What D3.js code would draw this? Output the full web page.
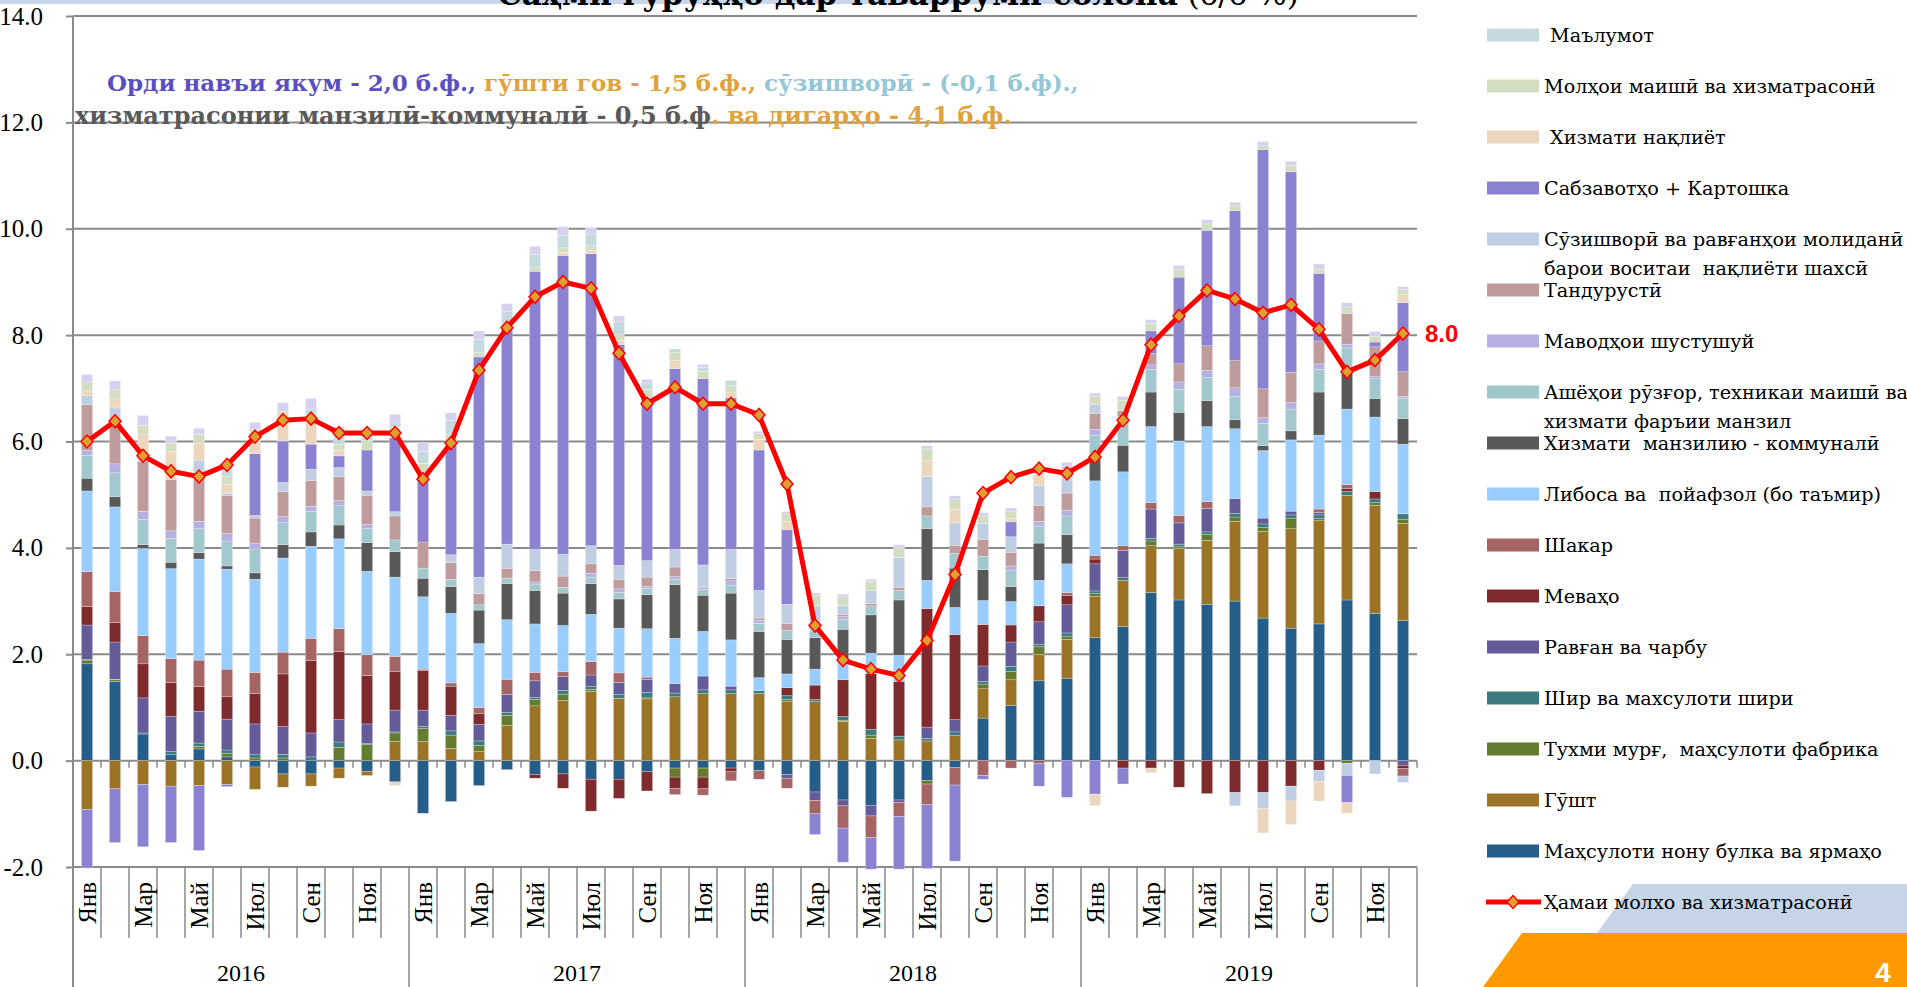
<!DOCTYPE html>
<html>
<head>
<meta charset="utf-8">
<script src="https://cdnjs.cloudflare.com/ajax/libs/d3/7.8.5/d3.min.js"></script>
<style>
body{margin:0;background:#fff;overflow:hidden}
text{font-family:'Liberation Serif',serif}
</style>
</head>
<body>
<div id="root"></div>
<script>
//categories
var months=['Янв','','Мар','','Май','','Июл','','Сен','','Ноя',''];
var years=['2016','2017','2018','2019'];

//contributions, p.p. (one value per month, Jan 2016 - Dec 2019)
var bread=[1.82,1.49,0.5,0.11,0.22,0.07,-0.12,-0.25,-0.25,-0.14,-0.2,-0.4, -0.99,-0.77,-0.47,-0.17,-0.26,-0.25,-0.35,-0.35,-0.21,-0.14,-0.14,-0.14, -0.19,-0.26,-0.59,-0.74,-0.84,-0.74,-0.37,-0.13,0.8,1.04,1.5,1.55, 2.31,2.52,3.16,3.02,2.94,3.0,2.68,2.49,2.57,3.02,2.77,2.63];
var meat=[-0.92,-0.53,-0.45,-0.48,-0.47,-0.45,-0.42,-0.25,-0.23,-0.19,-0.08,0.36, 0.36,0.23,0.17,0.66,1.03,1.13,1.3,1.17,1.16,1.2,1.26,1.26, 1.26,1.11,1.11,0.74,0.42,0.39,0.37,0.47,0.55,0.48,0.5,0.73, 0.78,0.87,0.88,0.97,1.2,1.5,1.63,1.87,1.94,1.97,2.03,1.83];
var eggs=[0.07,0.03,0,0,0.05,0.07,0.05,0.05,0,0.25,0.3,0.16, 0.24,0.25,0.12,0.19,0.12,0.12,0.04,0,0.02,-0.17,-0.17,0, 0,0.04,0,0.02,0.06,0,-0.07,0,0.09,0.16,0.14,0.05, 0.05,0,0.09,0.03,0.11,0.08,0.07,0.2,0.04,-0.05,0.05,0.08];
var milk=[0.01,0.01,0.02,0.06,0.06,0.06,0.06,0.07,0.07,0.1,0.02,0.02, 0.04,0.08,0.08,0.06,0.04,0.07,0.05,0.07,0.1,0.07,0.07,0.07, 0.06,0.07,0.04,0.07,0.11,0.07,0.05,0.07,0.05,0.09,0.05,0.07, 0.05,0.05,0.05,0.05,0.05,0.07,0.07,0.06,0.07,0.07,0.07,0.1];
var oil=[0.65,0.70,0.66,0.66,0.6,0.58,0.58,0.52,0.45,0.42,0.37,0.41, 0.31,0.29,0.31,0.33,0.31,0.26,0.22,0.23,0.25,0.18,0.26,0.07, 0,-0.07,-0.16,-0.11,-0.2,-0.05,0.21,0.23,0.29,0.46,0.42,0.53, 0.51,0.51,0.55,0.4,0.44,0.28,0.11,0.07,0.05,0,0,-0.09];
var fruits=[0.35,0.37,0.64,0.64,0.46,0.42,0.57,0.99,1.36,1.28,0.91,0.73, 0.74,0.55,0.2,0,-0.07,-0.27,-0.6,-0.36,-0.36,-0.21,-0.22,-0.07, 0,0.15,0.27,0.69,1.05,1.03,2.23,1.6,0.78,0.32,0.3,0.17, 0.09,-0.14,-0.14,-0.5,-0.62,-0.6,-0.6,-0.48,-0.18,0.06,0.14,-0.06];
var sugar=[0.65,0.58,0.53,0.45,0.5,0.52,0.4,0.41,0.42,0.43,0.39,0.28, 0.03,0.06,0.12,0.29,0.16,0.09,0.25,0.18,0.04,-0.12,-0.12,-0.17, -0.16,-0.19,-0.25,-0.42,-0.41,-0.26,-0.39,-0.33,-0.28,-0.14,-0.06,0.06, 0.07,0.09,0.12,0.14,0.13,0,0,0,0.06,0.07,0,-0.14];
var clothing=[1.52,1.59,1.64,1.69,1.9,1.88,1.75,1.77,1.73,1.69,1.57,1.49, 1.36,1.31,1.2,1.12,0.91,0.87,0.89,0.84,0.91,0.85,0.84,0.87, 0.24,0.26,0.3,0.39,0.38,0.49,0.53,0.51,0.45,0.44,0.48,0.54, 1.4,1.39,1.43,1.4,1.41,1.31,1.27,1.34,1.39,1.42,1.4,1.31];
var utilities=[0.24,0.19,0.07,0.12,0.12,0.06,0.12,0.25,0.27,0.26,0.54,0.48, 0.35,0.5,0.63,0.68,0.63,0.61,0.58,0.55,0.64,1.01,0.68,0.88, 0.87,0.65,0.59,0.56,0.72,1.04,0.97,0.74,0.58,0.28,0.7,0.55, 0.44,0.5,0.65,0.54,0.49,0.17,0.09,0.17,0.81,0.67,0.35,0.48];
var household=[0.43,0.45,0.47,0.45,0.45,0.47,0.45,0.41,0.39,0.36,0.26,0.22, 0.19,0.14,0.1,0.1,0.12,0.11,0.12,0.12,0.12,0.1,0.11,0.15, 0.15,0.17,0.13,0.18,0.17,0.18,0.24,0.28,0.25,0.3,0.32,0.35, 0.42,0.4,0.42,0.43,0.43,0.44,0.42,0.41,0.43,0.48,0.37,0.38];
var detergent=[0.09,0.17,0.16,0.14,0.14,0.14,0.11,0.12,0.09,0.1,0.08,0, 0,0,0,0,0.04,0,0.07,0.07,0.04,0.05,0.04,0.08, 0.06,0,0,0.06,0,0,0,0,0,0.09,0.09,0.11, 0.11,0.14,0.09,0.14,0.14,0.16,0.11,0.12,0.1,0.07,0.05,0.04];
var health=[0.86,0.86,0.94,0.97,0.9,0.72,0.47,0.47,0.49,0.45,0.55,0.45, 0.49,0.31,0.21,0.18,0.21,0.21,0.18,0.18,0.17,0.18,0.02,0.04, 0.04,0.13,0,0.04,0.04,0.06,0.17,0.15,0.32,0.25,0.3,0.32, 0.3,0.11,0.21,0.34,0.46,0.51,0.54,0.57,0.43,0.58,0.55,0.46];
var fuel=[0.17,0.19,0,0,0.25,0.04,0.05,0.17,0.21,0.17,0.08,0.08, 0,0.15,0.31,0.46,0.4,0.41,0.34,0.26,0.31,0.33,0.4,0.55, 0.52,0.36,0.47,0.16,0.25,0.56,0.57,0.42,0.3,0.3,0.37,0.51, 0.16,0,0,0,0,-0.25,-0.3,-0.28,-0.21,-0.23,-0.25,-0.12];
var veg=[-1.1,-1.01,-1.17,-1.06,-1.22,-0.04,1.16,0.78,0.47,0.22,0.77,1.39, 1.31,2.1,4.14,4.04,5.23,5.62,5.49,4.15,3.04,3.4,3.5,2.85, 2.64,1.4,-0.39,-0.64,-0.59,-0.99,-1.2,-1.43,-0.07,0.28,-0.42,-0.69, -0.63,-0.3,0.43,1.63,2.17,2.82,4.5,3.77,1.27,-0.51,0.09,1.3];
var transport=[0.09,0.17,0.51,0.52,0.32,0.16,0.26,0.42,0.43,0.1,0,-0.07, 0,0,0,0,0,0.06,0.07,0.08,0,0.15,0,0.11, 0.2,0.15,0,0,0,0,0.3,0.26,0,0.06,0.21,0, -0.22,0,-0.09,0,0,0,-0.46,-0.44,-0.37,-0.2,0,0.16];
var goods=[0.17,0.17,0.16,0.16,0.16,0.16,0.19,0.14,0,0.12,0.18,0.2, 0.17,0.17,0.08,0,0.08,0.08,0.08,0.11,0.18,0.15,0.14,0.12, 0.11,0.15,0.19,0.17,0.17,0.19,0.22,0.19,0.14,0.14,0,0, 0.16,0.19,0.14,0.14,0.12,0.09,0.07,0.12,0.08,0.12,0.11,0.09];
var info=[0,0,0,0,0,0.1,0,0,0.23,0.2,0.1,0.08, 0.22,0.25,0.25,0.34,0.24,0.23,0.22,0.24,0.12,0.07,0.07,0.1, 0,0,0,0,0,0,0,0,0,0,0,0, 0,0,0,0,0,0,0,0,0,0,0,0];
var other=[0.14,0.17,0.19,0.13,0.12,0.12,0.14,0.16,0.2,0.12,0.13,0.16, 0.17,0.15,0.16,0.14,0.15,0.17,0.12,0.11,0.07,0,0.06,0, 0.04,0.04,0.05,0.05,0.04,0.05,0.06,0.06,0.06,0.06,0.05,0.07, 0.06,0.08,0.07,0.08,0.08,0.07,0.08,0.08,0.1,0.08,0.09,0.05];

//headline inflation, %
var total=[6.0,6.38,5.73,5.44,5.34,5.56,6.09,6.4,6.43,6.16,6.16,6.16, 5.29,5.97,7.34,8.14,8.72,9.0,8.88,7.66,6.71,7.02,6.71,6.71, 6.5,5.2,2.54,1.89,1.72,1.6,2.26,3.5,5.03,5.33,5.49,5.4, 5.71,6.4,7.82,8.36,8.84,8.68,8.42,8.57,8.11,7.31,7.53,8.03];

var yTicks=[-2,0,2,4,6,8,10,12,14];

var seriesKeys=['bread','meat','eggs','milk','oil','fruits','sugar','clothing','utilities','household','detergent','health','fuel','veg','transport','goods','info','other'];
var seriesValues=[bread,meat,eggs,milk,oil,fruits,sugar,clothing,utilities,household,detergent,health,fuel,veg,transport,goods,info,other];
var seriesColors=['#275E89','#9B7427','#647C30','#3D7A7F','#645C99','#7F2A2D','#A66565','#99CCFF','#595959','#A2C7CD','#B6B0E2','#BF9B9B','#BFCEE2','#8B83D1','#EDD6BE','#D2DDC2','#C4DADF','#D5D1EE'];

var legendKeys=['info','goods','transport','veg','fuel','health','detergent','household','utilities','clothing','sugar','fruits','oil','milk','eggs','meat','bread'];
var legendLabels=[[' Маълумот'],['Молҳои маишӣ ва хизматрасонӣ'],[' Хизмати нақлиёт'],['Сабзавотҳо + Картошка'],
  ['Сӯзишворӣ ва равғанҳои молиданӣ','барои воситаи  нақлиёти шахсӣ'],['Тандурустӣ'],['Маводҳои шустушуй'],
  ['Ашёҳои рӯзғор, техникаи маишӣ ва','хизмати фаръии манзил'],['Хизмати  манзилию - коммуналӣ'],['Либоса ва  пойафзол (бо таъмир)'],
  ['Шакар'],['Меваҳо'],['Равған ва чарбу'],['Шир ва махсулоти шири'],['Тухми мурғ,  маҳсулоти фабрика'],['Гӯшт'],['Маҳсулоти нону булка ва ярмаҳо']];
var lineLabel='Ҳамаи молхо ва хизматрасонӣ';

var noteLine1=[['Орди навъи якум - 2,0 б.ф., ','#5A4FC2'],['гӯшти гов - 1,5 б.ф., ','#E0A23D'],['сӯзишворӣ - (-0,1 б.ф).,','#93C6D6']];
var noteLine2=[['хизматрасонии манзилӣ-коммуналӣ - 0,5 б.ф','#595959'],['. ва дигарҳо - 4,1 б.ф.','#E0A23D']];


var W=1907,H=987;
var x0=73,x1=1417,yTop=16,yBot=867;
var serif2='DejaVu Serif, serif';

var svg=d3.select('#root').append('svg').attr('width',W).attr('height',H);

//slide decorations
svg.append('rect').attr('x',0).attr('y',0).attr('width',1140).attr('height',4).attr('fill','#C9D5E8');
svg.append('polygon').attr('points','1633,884 1907,884 1907,933 1597,933').attr('fill','#C6D4E7');
svg.append('polygon').attr('points','1522,933 1907,933 1907,987 1483,987').attr('fill','#FF9900');
svg.append('text').attr('x',1883).attr('y',982).attr('text-anchor','middle')
	.style('font-family','Liberation Sans, Arial, sans-serif').style('font-weight','bold').style('font-size','28px')
	.attr('fill','#fff').text('4');

var title=svg.append('text').attr('x',898).attr('y',5).attr('text-anchor','middle').style('font-family',serif2).style('font-size','31px');
title.append('tspan').style('font-weight','bold').text('Саҳми гурӯҳҳо дар таваррӯми солона');
title.append('tspan').text(' (б/б %)');

var scaleX=d3.scaleBand().domain(d3.range(total.length)).range([x0,x1]).paddingInner(0.6).paddingOuter(0.3);
var scaleY=d3.scaleLinear().domain([-2,14]).range([yBot,yTop]);
var step=scaleX.step();

var g=svg.append('g');

g.selectAll('.grid').data(yTicks).enter().append('line').attr('class','grid')
	.attr('x1',x0).attr('x2',x1)
	.attr('y1',function(d){return scaleY(d)}).attr('y2',function(d){return scaleY(d)})
	.attr('stroke','#8A8A8A').attr('stroke-width',2);

var yAxis=d3.axisLeft(scaleY).tickValues(yTicks).tickSize(7).tickPadding(23).tickFormat(function(d){return d.toFixed(1)});
var ya=g.append('g').attr('transform','translate('+x0+',0)').call(yAxis);
ya.select('.domain').remove();
ya.selectAll('line').attr('stroke','#8A8A8A').attr('stroke-width',2);
ya.selectAll('text').style('font-family','Liberation Serif').style('font-size','25px').attr('fill','#000');

//category ticks
var bounds=d3.range(total.length+1);
g.selectAll('.ztick').data(bounds.slice(1)).enter().append('line').attr('class','ztick')
	.attr('x1',function(d){return x0+d*step}).attr('x2',function(d){return x0+d*step})
	.attr('y1',scaleY(0)).attr('y2',scaleY(0)+7).attr('stroke','#8A8A8A').attr('stroke-width',1.5);
g.selectAll('.ctick').data(bounds).enter().append('line').attr('class','ctick')
	.attr('x1',function(d){return x0+d*step}).attr('x2',function(d){return x0+d*step})
	.attr('y1',yBot).attr('y2',function(d){return d%12==0?H:yBot+71})
	.attr('stroke','#8A8A8A').attr('stroke-width',1.5);
g.append('line').attr('x1',x0).attr('x2',x0).attr('y1',yTop).attr('y2',H).attr('stroke','#8A8A8A').attr('stroke-width',2);

g.selectAll('.mlab').data(total).enter().append('text').attr('class','mlab')
	.attr('transform',function(d,i){return 'translate('+(scaleX(i)+scaleX.bandwidth()/2)+','+(yBot+15)+') rotate(-90)'})
	.attr('dy','0.35em').attr('text-anchor','end').style('font-size','25px')
	.text(function(d,i){return months[i%12]});

g.selectAll('.ylab').data(years).enter().append('text').attr('class','ylab')
	.attr('x',function(d,i){return x0+(i*12+6)*step}).attr('y',981)
	.attr('text-anchor','middle').style('font-size','24px').text(function(d){return d});

//stacked bars
var rows=total.map(function(t,i){
	var r={};
	seriesKeys.forEach(function(k,j){r[k]=seriesValues[j][i]});
	return r;
});
var stacked=d3.stack().keys(seriesKeys).offset(d3.stackOffsetDiverging)(rows);

var layers=g.selectAll('.layer').data(stacked).enter().append('g').attr('class','layer')
	.attr('fill',function(d,i){return seriesColors[i]});
layers.selectAll('rect').data(function(d){return d}).enter().append('rect')
	.attr('x',function(d,i){return scaleX(i)}).attr('width',scaleX.bandwidth())
	.attr('y',function(d){return scaleY(d[1])})
	.attr('height',function(d){return scaleY(d[0])-scaleY(d[1])})
	.attr('stroke','#fff').attr('stroke-width',0.5).attr('stroke-opacity',0.5);

//headline line
var line=d3.line()
	.x(function(d,i){return scaleX(i)+scaleX.bandwidth()/2})
	.y(function(d){return scaleY(d)});
g.append('path').attr('d',line(total)).attr('fill','none').attr('stroke','#FF0000')
	.attr('stroke-width',5).attr('stroke-linejoin','round');

var diamond='M0,-6.5L6,0L0,6.5L-6,0Z';
g.selectAll('.mark').data(total).enter().append('path').attr('class','mark')
	.attr('transform',function(d,i){return 'translate('+(scaleX(i)+scaleX.bandwidth()/2)+','+scaleY(d)+')'})
	.attr('d',diamond).attr('fill','#DDA033').attr('stroke','#FF0000').attr('stroke-width',1.5);

var last=total.length-1;
g.append('text').attr('x',scaleX(last)+scaleX.bandwidth()/2+22).attr('y',scaleY(total[last])).attr('dy','0.35em')
	.style('font-family','Liberation Sans, Arial, sans-serif').style('font-weight','bold').style('font-size','24px')
	.attr('fill','#FF0000').text(total[last].toFixed(1));

//note
var n1=svg.append('text').attr('x',107).attr('y',91).style('font-family',serif2).style('font-size','23px').style('font-weight','bold');
n1.selectAll('tspan').data(noteLine1).enter().append('tspan').attr('fill',function(d){return d[1]}).style('white-space','pre').text(function(d){return d[0]});
var n2=svg.append('text').attr('x',75).attr('y',124).style('font-family',serif2).style('font-size','24px').style('font-weight','bold');
n2.selectAll('tspan').data(noteLine2).enter().append('tspan').attr('fill',function(d){return d[1]}).style('white-space','pre').text(function(d){return d[0]});

//legend
var leg=svg.append('g').attr('transform','translate(1487,0)');
var legendG=leg.selectAll('.li').data(legendKeys).enter().append('g').attr('class','li')
	.attr('transform',function(d,i){return 'translate(0,'+(35+i*51)+')'});
legendG.append('rect').attr('x',0).attr('y',-6.5).attr('width',52).attr('height',13)
	.attr('fill',function(d){return seriesColors[seriesKeys.indexOf(d)]});
legendG.each(function(d,i){
	var t=d3.select(this).append('text').attr('x',57).attr('y',0).style('font-family',serif2).style('font-size','19.2px').style('white-space','pre');
	legendLabels[i].forEach(function(s,j){
		t.append('tspan').attr('x',57).attr('dy',j==0?'0.35em':'29px').text(s);
	});
});
var lineLeg=leg.append('g').attr('transform','translate(0,'+(35+legendKeys.length*51)+')');
lineLeg.append('line').attr('x1',-1).attr('x2',54).attr('stroke','#FF0000').attr('stroke-width',5);
lineLeg.append('path').attr('transform','translate(26,0)').attr('d',diamond).attr('fill','#DDA033').attr('stroke','#FF0000').attr('stroke-width',1.5);
lineLeg.append('text').attr('x',57).attr('dy','0.35em').style('font-family',serif2).style('font-size','19.2px').text(lineLabel);
</script>
</body>
</html>
